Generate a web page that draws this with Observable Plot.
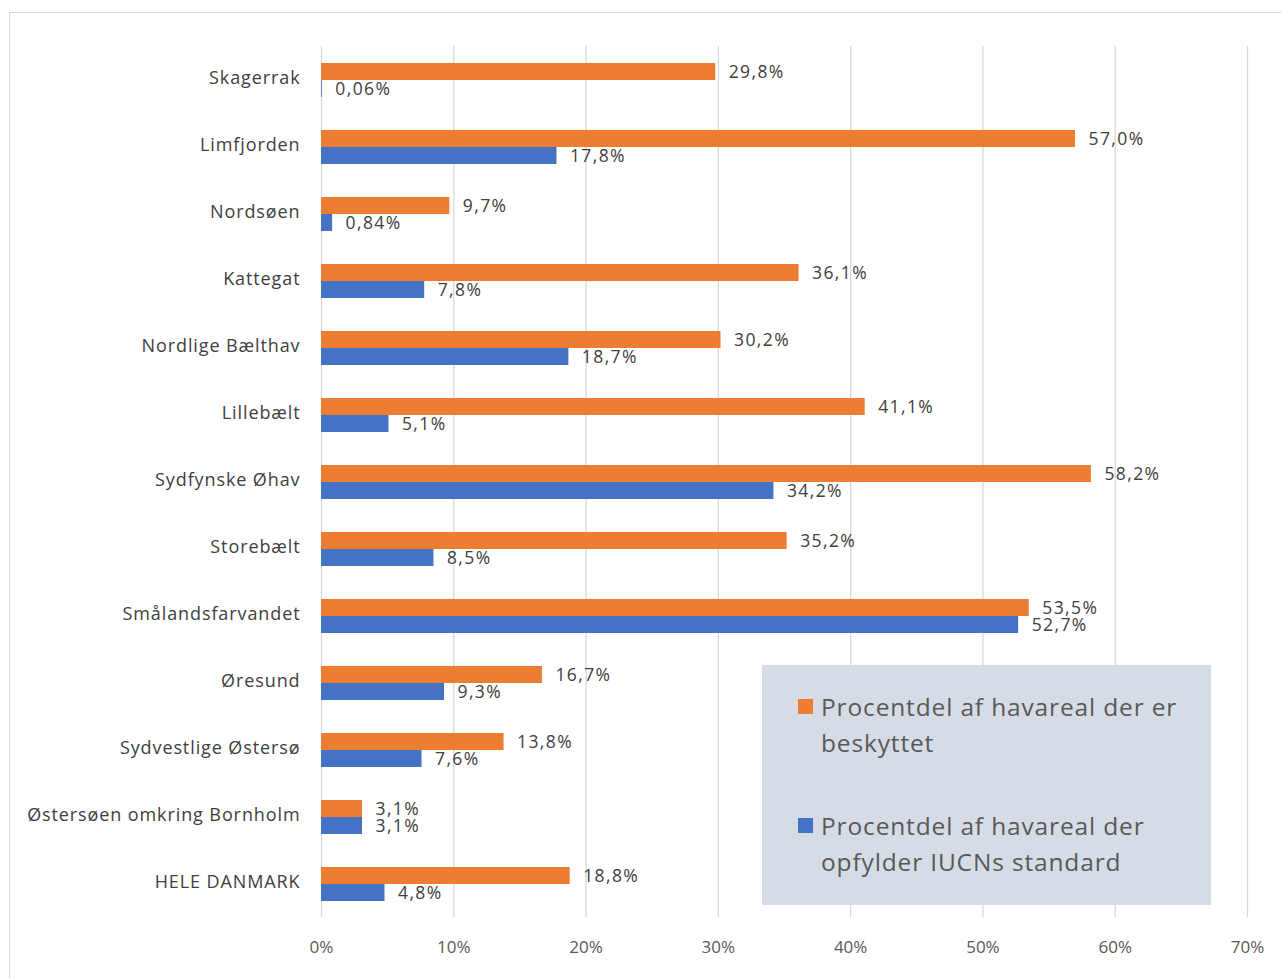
<!DOCTYPE html>
<html>
<head>
<meta charset="utf-8">
<script src="https://cdn.jsdelivr.net/npm/d3@7"></script>
<script src="https://cdn.jsdelivr.net/npm/@observablehq/plot@0.6"></script>
<style>
  html, body { margin: 0; padding: 0; background: #fff; }
  #wrap { position: relative; width: 1281px; height: 979px; overflow: hidden; font-family: "Open Sans", sans-serif; }
  #frame { position: absolute; left: 9px; top: 12px; width: 1290px; height: 990px; border: 1.5px solid #d9d9d9; box-sizing: border-box; }
  #chart { position: absolute; left: 0; top: 0; }
  #legend { position: absolute; left: 762px; top: 665px; width: 449px; height: 240px; background: #d6dce5; color: #595959; font-size: 24.5px; line-height: 36px; letter-spacing: 0.85px; }
  .item { position: absolute; left: 36px; width: 410px; padding-left: 23px; white-space: nowrap; }
  .sw { position: absolute; left: 0; top: 10px; width: 15px; height: 15px; }
  .fyax text { letter-spacing: 0.9px; }
  .vlab text { letter-spacing: 1.4px; }
</style>
</head>
<body>
<div id="wrap">
  <div id="frame"></div>
  <div id="chart"></div>
  <div id="legend"></div>
</div>
<script>
const regions = ["Skagerrak", "Limfjorden", "Nordsøen", "Kattegat", "Nordlige Bælthav", "Lillebælt", "Sydfynske Øhav", "Storebælt", "Smålandsfarvandet", "Øresund", "Sydvestlige Østersø", "Østersøen omkring Bornholm", "HELE DANMARK"];
const series = ["Procentdel af havareal der er beskyttet", "Procentdel af havareal der opfylder IUCNs standard"];
const protectedPct = [29.8, 57.0, 9.7, 36.1, 30.2, 41.1, 58.2, 35.2, 53.5, 16.7, 13.8, 3.1, 18.8];
const iucnPct = [0.06, 17.8, 0.84, 7.8, 18.7, 5.1, 34.2, 8.5, 52.7, 9.3, 7.6, 3.1, 4.8];
const xTicks = [0, 10, 20, 30, 40, 50, 60, 70];
const colors = ["#ED7D31", "#4472C4"];

const fmt = v => (v < 1 ? v.toFixed(2) : v.toFixed(1)).replace(".", ",") + "%";

const data = [];
regions.forEach((r, i) => {
  data.push({region: r, series: series[0], value: protectedPct[i]});
  data.push({region: r, series: series[1], value: iucnPct[i]});
});

const chart = Plot.plot({
  width: 1281,
  height: 979,
  marginLeft: 321,
  marginRight: 34,
  marginTop: 45,
  marginBottom: 61,
  style: {fontFamily: "Open Sans, sans-serif", background: "transparent"},
  x: {domain: [0, 70], ticks: xTicks, tickFormat: d => d + "%", label: null},
  fy: {domain: regions, padding: 0, label: null},
  y: {domain: series, paddingInner: 0, paddingOuter: 0.96, axis: null},
  color: {domain: series, range: colors},
  marks: [
    Plot.gridX(xTicks, {stroke: "#d9d9d9", strokeOpacity: 1, strokeWidth: 1.3}),
    Plot.barX(data, {fy: "region", y: "series", x: "value", fill: "series"}),
    Plot.text(data, {fy: "region", y: "series", x: "value", text: d => fmt(d.value), textAnchor: "start", dx: 13, fill: "#404040", fontSize: 17.5, className: "vlab"}),
    Plot.axisFy({anchor: "left", tickSize: 0, tickPadding: 21, fontSize: 18, color: "#404040", label: null, className: "fyax", dy: -2}),
    Plot.axisX({ticks: xTicks, tickFormat: d => d + "%", tickSize: 0, tickPadding: 23, fontSize: 17, color: "#595959", label: null})
  ]
});
document.getElementById("chart").appendChild(chart);

const legend = document.getElementById("legend");
const lines = [["Procentdel af havareal der er", "beskyttet"], ["Procentdel af havareal der", "opfylder IUCNs standard"]];
const tops = [24, 143];
series.forEach((s, i) => {
  const it = document.createElement("div");
  it.className = "item";
  it.style.top = tops[i] + "px";
  it.innerHTML = `<span class="sw" style="background:${colors[i]}"></span>${lines[i][0]}<br>${lines[i][1]}`;
  legend.appendChild(it);
});
</script>
</body>
</html>
